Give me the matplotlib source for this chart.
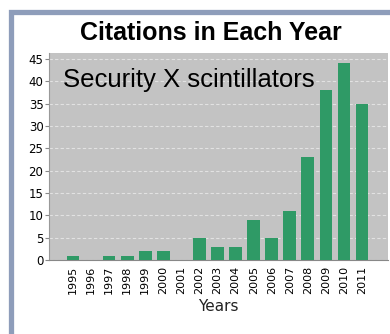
import matplotlib.pyplot as plt
from matplotlib.patches import Rectangle

years = ['1995', '1996', '1997', '1998', '1999', '2000', '2001', '2002', '2003',
         '2004', '2005', '2006', '2007', '2008', '2009', '2010', '2011']
citations = [1, 0, 1, 1, 2, 2, 0, 5, 3, 3, 9, 5, 11, 23, 38, 44, 35]
y_ticks = [0, 5, 10, 15, 20, 25, 30, 35, 40, 45]

fig = plt.figure(figsize=(3.9, 3.34), dpi=100)
fig.patch.set_facecolor('white')

# panel frame (runs off the right and bottom edges)
fig.add_artist(Rectangle((10.5 / 390, -0.1), 1.2, (334 - 12.5) / 334 + 0.1,
                         transform=fig.transFigure, fill=False,
                         edgecolor='#8e9dba', linewidth=3.8))

ax = fig.add_axes([49 / 390, (334 - 260) / 334, (388 - 49) / 390, (260 - 53) / 334])
ax.set_facecolor('#c3c3c3')
x = list(range(len(years)))
ax.bar(x, citations, width=0.7, color='#2f9a66', zorder=3)

ax.set_xlim(-1.33, 17.44)
ax.set_ylim(0, 46.3)
ax.set_yticks(y_ticks)
ax.set_xticks(x)
ax.set_xticklabels(years, rotation=90, fontsize=8)
ax.tick_params(axis='y', labelsize=8.5, length=3, pad=1, color='#888888')
ax.tick_params(axis='x', length=0, pad=4)
ax.grid(axis='y', color='#e2e2e2', linestyle=(0, (3, 2)), linewidth=0.8, zorder=1)

for side in ['top', 'right']:
    ax.spines[side].set_visible(False)
ax.spines['left'].set_color('#999999')
ax.spines['bottom'].set_color('#888888')

ax.set_xlabel('Years', fontsize=11, labelpad=4, color='#222222')
fig.text(211 / 390, 1 - 33 / 334, 'Citations in Each Year', ha='center', va='center',
         fontsize=18, fontweight='bold', family='Liberation Sans')
ax.text(63 / 390, 1 - 80 / 334, 'Security X scintillators', transform=fig.transFigure,
        ha='left', va='center', fontsize=18.5, family='Liberation Sans')

plt.savefig('out.png', dpi=100)
